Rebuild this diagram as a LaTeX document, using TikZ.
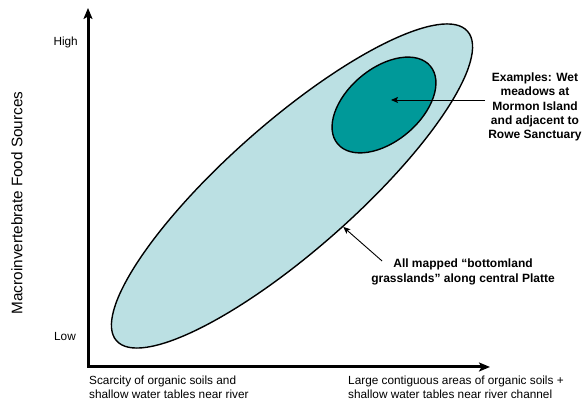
\documentclass[tikz,border=0pt]{standalone}
\usepackage{fontspec}
\setmainfont{Liberation Sans}
\usepackage{tikz}
\usetikzlibrary{arrows.meta,shapes.geometric}
\usepackage{xcolor}
\definecolor{paleteal}{RGB}{187,224,227}
\definecolor{deepteal}{RGB}{0,153,153}

\begin{document}
\begin{tikzpicture}[x=1pt,y=1pt,>={Stealth[length=11pt,width=9pt,inset=2.5pt]},
  region/.style={ellipse,draw,line width=1.4pt,inner sep=0pt},
  axislabel/.style={font=\fontsize{11.8}{14}\selectfont,inner sep=0pt},
  note/.style={font=\bfseries\fontsize{12}{14.3}\selectfont,align=center,inner sep=0pt},
  pointer/.style={line width=0.9pt,-{Stealth[length=7pt,width=6pt,inset=1.5pt]}}]
  \useasboundingbox (0,0) rectangle (584,403);
  % axes
  \coordinate (origin) at (88,36);
  \coordinate (ytip) at (88,395);
  \coordinate (xtip) at (490,36);
  \draw[line width=3pt,<->] (ytip) -- (origin) -- (xtip);
  \node[axislabel,anchor=east] (high) at (78,361) {High};
  \node[axislabel,anchor=east] (low) at (76,66) {Low};
  \node[font=\fontsize{15.3}{18}\selectfont,rotate=90,inner sep=0pt] (ylabel) at (17,200) {Macroinvertebrate Food Sources};
  \node[axislabel,anchor=west,align=left] (scarce) at (89,16) {Scarcity of organic soils and\\shallow water tables near river};
  \node[axislabel,anchor=west,align=left] (large) at (348,16) {Large contiguous areas of organic soils +\\shallow water tables near river channel};
  % regions
  \node[region,fill=paleteal,minimum width=468pt,minimum height=128pt,rotate=41.4] (bottomland) at (292,217) {};
  \node[region,fill=deepteal,minimum width=121pt,minimum height=73pt,rotate=40] (meadows) at (384,298) {};
  % notes
  \node[note] (exlabel) at (535,296) {Examples: Wet\\meadows at\\Mormon Island\\and adjacent to\\Rowe Sanctuary};
  \node[note] (bglabel) at (463,131) {All mapped ``bottomland\\grasslands'' along central Platte};
  \coordinate (exmark) at (391,303);
  \draw[pointer] ([xshift=-3pt]exlabel.west |- exmark) -- (exmark);
  \draw[pointer] ([xshift=11pt,yshift=-2pt]bglabel.north west) -- (bottomland.-80);
\end{tikzpicture}
\end{document}
